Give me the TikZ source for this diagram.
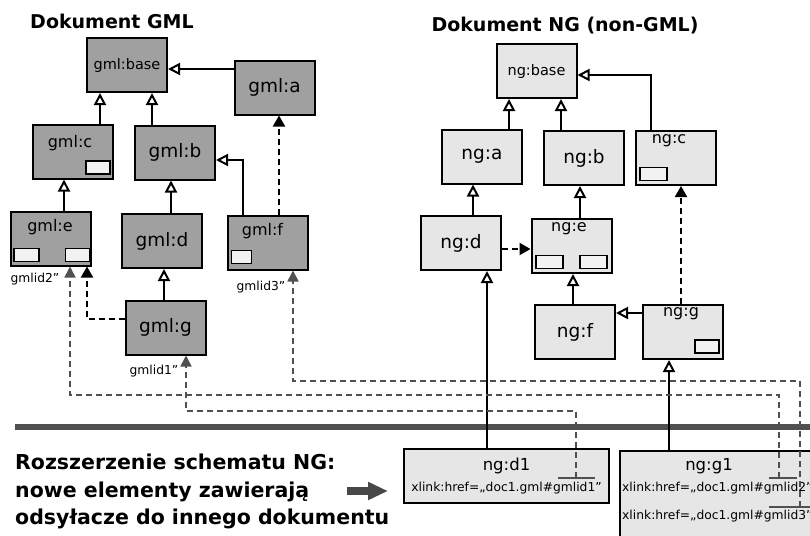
\documentclass[tikz,border=0pt]{standalone}
\usepackage{fontspec}
\setmainfont{DejaVu Sans}
\usetikzlibrary{arrows.meta,calc}
\definecolor{gmlfill}{HTML}{A0A0A0}
\definecolor{ngfill}{HTML}{E6E6E6}
\definecolor{slotfill}{HTML}{F2F2F2}
\definecolor{refgray}{HTML}{505050}
\definecolor{sepgray}{HTML}{505050}
\begin{document}
\begin{tikzpicture}[x=1pt,y=-1pt,
  box/.style={draw=black, line width=2pt, minimum width=80pt, minimum height=54pt, inner sep=0pt, font=\fontsize{18.5}{20}\selectfont},
  gmlbox/.style={box, fill=gmlfill},
  ngbox/.style={box, fill=ngfill},
  basefont/.style={font=\fontsize{14.5}{16}\selectfont},
  toplabel/.style={inner sep=0pt, font=\fontsize{16}{18}\selectfont},
  slot/.style={draw=black, line width=1.6pt, fill=slotfill, minimum width=24pt, minimum height=13pt, inner sep=0pt},
  gen/.style={draw=black, line width=2pt, -{Triangle[open, length=12pt, width=12pt]}},
  dep/.style={draw=black, line width=2pt, dash pattern=on 6pt off 4pt, -{Triangle[length=11pt, width=12pt]}},
  ref/.style={draw=refgray, line width=1.6pt, dash pattern=on 6pt off 4pt, -{Triangle[length=11pt, width=11pt]}},
  title/.style={font=\fontsize{19}{22}\selectfont\bfseries, inner sep=0pt},
  small/.style={font=\fontsize{12.3}{14}\selectfont, inner sep=0pt},
  mid/.style={font=\fontsize{16.5}{18}\selectfont, inner sep=0pt},
  refmark/.style={draw=refgray, line width=1.5pt},
]
\useasboundingbox (0,0) rectangle (810,535);
\clip (0,0) rectangle (810,535);

% titles
\node[title] (tgml) at (112,21) {Dokument GML};
\node[title] (tng) at (565,26) {Dokument NG (non-GML)};

% GML document
\node[gmlbox, basefont] (gbase) at (127,65) {gml:base};
\node[gmlbox] (ga) at (274.5,87.5) {gml:a};
\node[gmlbox] (gc) at (73,151.5) {};
\node[toplabel] (gcl) at (70,143) {gml:c};
\node[slot] (gcs) at (98,167.5) {};
\node[gmlbox] (gb) at (175,152.5) {gml:b};
\node[gmlbox] (ge) at (51,238.5) {};
\node[toplabel] (gel) at (50,227) {gml:e};
\node[slot, minimum width=25pt] (ges1) at (26.5,255) {};
\node[slot] (ges2) at (77.5,255) {};
\node[gmlbox] (gd) at (162,241) {gml:d};
\node[gmlbox] (gf) at (267.5,242.5) {};
\node[toplabel] (gfl) at (262.5,231) {gml:f};
\node[slot, minimum width=20pt] (gfs) at (241.5,257) {};
\node[gmlbox] (gg) at (165.5,327.5) {gml:g};

\node[small] (lid2) at (35,279) {gmlid2”};
\node[small] (lid3) at (261,287) {gmlid3”};
\node[small] (lid1) at (154,371) {gmlid1”};

\coordinate (gaA) at ([yshift=18.5pt]ga.west);
\draw[gen] (gaA) -- (gaA -| gbase.east);
\coordinate (gcA) at ([xshift=27pt]gc.north);
\draw[gen] (gcA) -- (gcA |- gbase.south);
\coordinate (gbA) at ([xshift=-23pt]gb.north);
\draw[gen] (gbA) -- (gbA |- gbase.south);
\coordinate (gfA) at ([xshift=-24.5pt]gf.north);
\coordinate (gbB) at ([yshift=-7.5pt]gb.east);
\draw[gen] (gfA) |- (gbB);
\coordinate (gfB) at ([xshift=11.5pt]gf.north);
\draw[dep] (gfB) -- (gfB |- ga.south);
\coordinate (geA) at ([xshift=13pt]ge.north);
\draw[gen] (geA) -- (geA |- gc.south);
\coordinate (gdA) at ([xshift=9pt]gd.north);
\draw[gen] (gdA) -- (gdA |- gb.south);
\coordinate (ggA) at ([xshift=-1.5pt]gg.north);
\draw[gen] (ggA) -- (ggA |- gd.south);
\coordinate (ggB) at ([yshift=8.5pt]gg.west);
\coordinate (geB) at ([xshift=36pt]ge.south);
\draw[dep] (ggB) -| (geB);

% NG document
\node[ngbox, basefont] (nbase) at (536.5,71) {ng:base};
\node[ngbox] (na) at (482,156.5) {ng:a};
\node[ngbox] (nb) at (584,158) {ng:b};
\node[ngbox] (nc) at (676,158) {};
\node[toplabel] (ncl) at (669,141) {ng:c};
\node[slot, minimum width=27pt] (ncs) at (653.5,174) {};
\node[ngbox] (nd) at (461,243) {ng:d};
\node[ngbox] (ne) at (571.5,246) {};
\node[toplabel] (nel) at (569,229) {ng:e};
\node[slot, minimum width=27pt] (nes1) at (549.5,262) {};
\node[slot, minimum width=27pt] (nes2) at (593.5,262) {};
\node[ngbox] (nf) at (575,332) {ng:f};
\node[ngbox] (ng) at (683,332) {};
\node[toplabel] (ngl) at (681,314) {ng:g};
\node[slot] (ngs) at (707,346.5) {};

\coordinate (ncA) at ([xshift=-25pt]nc.north);
\coordinate (nbaseA) at ([yshift=-4pt]nbase.east);
\draw[gen] (ncA) |- (nbaseA);
\coordinate (naA) at ([xshift=27pt]na.north);
\draw[gen] (naA) -- (naA |- nbase.south);
\coordinate (nbA) at ([xshift=-23pt]nb.north);
\draw[gen] (nbA) -- (nbA |- nbase.south);
\coordinate (ndA) at ([xshift=12pt]nd.north);
\draw[gen] (ndA) -- (ndA |- na.south);
\coordinate (neA) at ([xshift=8.5pt]ne.north);
\draw[gen] (neA) -- (neA |- nb.south);
\coordinate (ndB) at ([yshift=-6pt]nd.east);
\draw[dep] (ndB) -- (ndB -| ne.west);
\coordinate (nfA) at ([xshift=-2pt]nf.north);
\draw[gen] (nfA) -- (nfA |- ne.south);
\coordinate (ngA) at ([yshift=19pt]ng.west);
\draw[gen] (ngA) -- (ngA -| nf.east);
\coordinate (ngB) at ([xshift=-2pt]ng.north);
\draw[dep] (ngB) -- (ngB |- nc.south);

% separator
\draw[line width=5.5pt, sepgray] (15,427) -- (810,427);

% extension elements
\node[ngbox, minimum width=205pt, minimum height=54pt] (nd1) at (506.5,476) {};
\node[mid] (nd1t) at (506.5,466) {ng:d1};
\node[small] (nd1h) at (506.5,488) {xlink:href=„doc1.gml\#gmlid1”};
\node[ngbox, minimum width=230pt, minimum height=110pt, anchor=north west] (ng1) at (619,450) {};
\node[mid] (ng1t) at (709,466) {ng:g1};
\node[small, anchor=west] (ng1a) at (622,488) {xlink:href=„doc1.gml\#gmlid2”};
\node[small, anchor=west] (ng1b) at (622,516) {xlink:href=„doc1.gml\#gmlid3”};

\coordinate (nd1A) at ([xshift=-19.5pt]nd1.north);
\draw[gen] (nd1A) -- (nd1A |- nd.south);
\coordinate (ng1A) at (669,450);
\draw[gen] (ng1A) -- (ng1A |- ng.south);

% reference marks
\coordinate (t1) at (576,478);
\coordinate (t2) at (779,478);
\coordinate (t3) at (800,507);
\draw[refmark] (558,478) -- (595,478);
\draw[refmark] (769,478) -- (797,478);
\draw[refmark] (769,507) -- (812,507);

\coordinate (r1) at (186,411);
\draw[ref] (t1) |- (r1) -- ([xshift=20.5pt]gg.south);
\coordinate (r2) at (70,395);
\draw[ref] (t2) |- (r2) -- ([xshift=19pt]ge.south);
\coordinate (r3) at (293,381);
\draw[ref] (t3) |- (r3) -- ([xshift=25.5pt]gf.south);

% bottom text
\node[anchor=north west, align=left, inner sep=0pt, font=\fontsize{20.5}{27.5}\selectfont\bfseries] (ext) at (15,454) {Rozszerzenie schematu NG:\\nowe elementy zawierają\\odsyłacze do innego dokumentu};
\coordinate (arS) at (347,491);
\coordinate (arE) at (388,491);
\draw[line width=8pt, draw=refgray!90!black, -{Triangle[length=20pt, width=17pt]}] (arS) -- (arE);
\end{tikzpicture}
\end{document}
